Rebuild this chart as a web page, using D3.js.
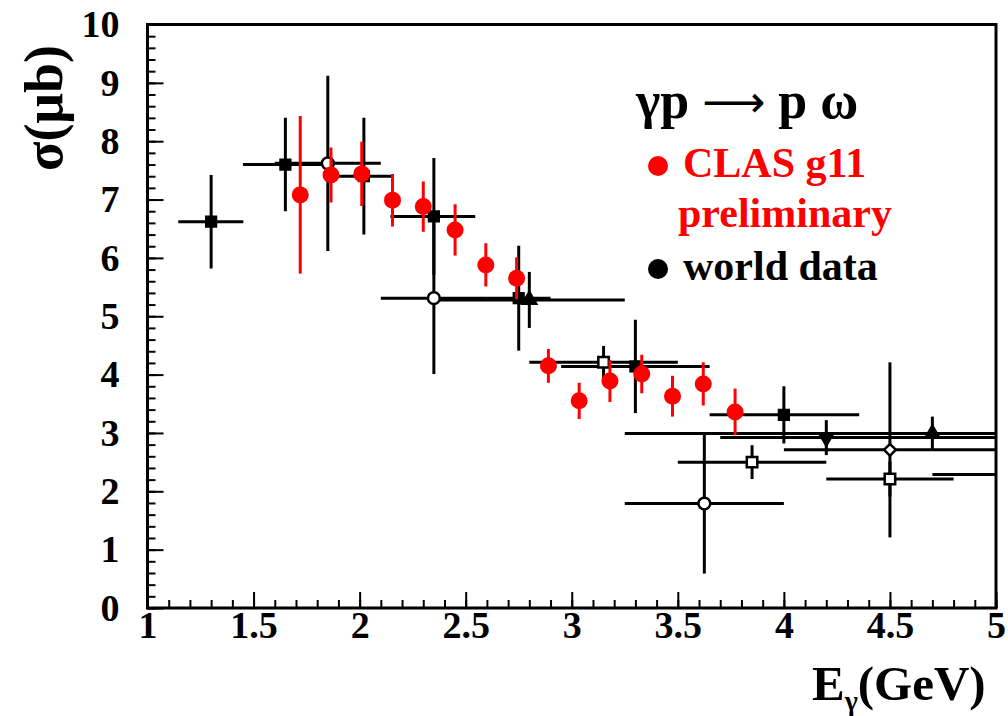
<!DOCTYPE html>
<html><head><meta charset="utf-8">
<script src="https://cdn.jsdelivr.net/npm/d3@7"></script>
<style>
html,body{margin:0;padding:0;background:#fff;}
svg{display:block;font-family:"Liberation Serif","Times New Roman",serif;font-weight:bold;}
</style></head>
<body><svg id="c" width="1008" height="716"></svg>
<script>
// ---- data ----
const xTickValues = [1, 1.5, 2, 2.5, 3, 3.5, 4, 4.5, 5];
const yTickValues = [0, 1, 2, 3, 4, 5, 6, 7, 8, 9, 10];

// CLAS g11 preliminary (red)
const clasE     = [1.72, 1.865, 2.01, 2.155, 2.30, 2.45, 2.595, 2.74, 2.89, 3.035, 3.18, 3.33, 3.475, 3.62, 3.77];
const clasSigma = [7.08, 7.42, 7.44, 6.99, 6.88, 6.48, 5.88, 5.65, 4.15, 3.55, 3.89, 4.01, 3.63, 3.84, 3.36];
const clasErr   = [1.35, 0.47, 0.55, 0.45, 0.43, 0.44, 0.37, 0.36, 0.29, 0.31, 0.36, 0.33, 0.35, 0.37, 0.40];

// world data (black)
const worldE      = [1.30, 1.65, 1.85, 2.02, 2.35, 2.35, 2.75, 2.80, 3.15, 3.30, 3.625, 4.00, 3.85, 4.20, 4.50, 4.50, 4.70, 5.20];
const worldSigma  = [6.62, 7.60, 7.62, 7.40, 6.71, 5.31, 5.31, 5.28, 4.21, 4.14, 1.79, 3.31, 2.50, 2.92, 2.71, 2.21, 2.99, 2.29];
const worldElo    = [1.145, 1.45, 1.60, 1.90, 2.145, 2.10, 2.60, 2.35, 2.80, 2.95, 3.25, 3.65, 3.50, 3.70, 4.00, 4.20, 3.25, 4.70];
const worldEhi    = [1.452, 1.85, 2.10, 2.15, 2.545, 2.60, 2.90, 3.25, 3.50, 3.65, 4.00, 4.355, 4.20, 5.30, 5.30, 4.80, 5.30, 5.70];
const worldErr    = [0.80, 0.80, 1.50, 1.00, 1.00, 1.30, 0.90, 0.48, 0.28, 0.80, 1.20, 0.49, 0.29, 0.30, 1.50, 0.30, 0.29, 0.30];
const worldMarker = ["sq", "sq", "oc", "sq", "sq", "oc", "sq", "tu", "os", "sq", "oc", "sq", "os", "td", "od", "os", "tu", "sq"];

// ---- layout ----
const svg = d3.select("#c");
const X0 = 147.5, X1 = 996, Y0 = 608, Y1 = 24.5;
const x = d3.scaleLinear().domain([1, 5]).range([X0, X1]);
const y = d3.scaleLinear().domain([0, 10]).range([Y0, Y1]);
const serif = "Liberation Serif, Times New Roman, serif";

svg.append("defs").append("clipPath").attr("id", "clip")
  .append("rect").attr("x", X0).attr("y", Y1).attr("width", X1 - X0).attr("height", Y0 - Y1);

// minor ticks
const xMinor = d3.range(1, 5.0001, 0.1).map(v => +v.toFixed(2));
const yMinor = d3.range(0, 10.0001, 0.2).map(v => +v.toFixed(2));
svg.append("g").attr("transform", `translate(0,${Y0})`)
  .call(d3.axisBottom(x).tickValues(xMinor).tickSize(-8).tickFormat(""))
  .call(g => g.select(".domain").remove())
  .call(g => g.selectAll("line").attr("stroke", "#000").attr("stroke-width", 2));
svg.append("g").attr("transform", `translate(${X0},0)`)
  .call(d3.axisLeft(y).tickValues(yMinor).tickSize(-8).tickFormat(""))
  .call(g => g.select(".domain").remove())
  .call(g => g.selectAll("line").attr("stroke", "#000").attr("stroke-width", 2));

// major ticks + labels
svg.append("g").attr("transform", `translate(0,${Y0})`)
  .call(d3.axisBottom(x).tickValues(xTickValues).tickSize(-16).tickPadding(3).tickFormat(d3.format("")))
  .call(g => g.select(".domain").remove())
  .call(g => g.selectAll("line").attr("stroke", "#000").attr("stroke-width", 2))
  .call(g => g.selectAll("text").attr("fill", "#000").attr("font-size", 38)
      .attr("font-family", serif).attr("font-weight", "bold"));
svg.append("g").attr("transform", `translate(${X0},0)`)
  .call(d3.axisLeft(y).tickValues(yTickValues).tickSize(-16).tickPadding(28).tickFormat(d3.format("d")))
  .call(g => g.select(".domain").remove())
  .call(g => g.selectAll("line").attr("stroke", "#000").attr("stroke-width", 2))
  .call(g => g.selectAll("text").attr("fill", "#000").attr("font-size", 38)
      .attr("font-family", serif).attr("font-weight", "bold"));

// frame
svg.append("rect").attr("x", X0).attr("y", Y1).attr("width", X1 - X0).attr("height", Y0 - Y1)
  .attr("fill", "none").attr("stroke", "#000").attr("stroke-width", 3);

// ---- world data ----
const world = worldE.map((e, i) => ({e, s: worldSigma[i], lo: worldElo[i], hi: worldEhi[i], err: worldErr[i], m: worldMarker[i]}));
const gw = svg.append("g").attr("clip-path", "url(#clip)");
gw.selectAll("line.h").data(world).join("line")
  .attr("x1", d => x(d.lo)).attr("x2", d => x(d.hi))
  .attr("y1", d => y(d.s)).attr("y2", d => y(d.s))
  .attr("stroke", "#000").attr("stroke-width", 3);
gw.selectAll("line.v").data(world).join("line")
  .attr("x1", d => x(d.e)).attr("x2", d => x(d.e))
  .attr("y1", d => y(d.s + d.err)).attr("y2", d => y(d.s - d.err))
  .attr("stroke", "#000").attr("stroke-width", 3);
const sym = {
  sq: d3.symbol(d3.symbolSquare, 150),
  os: d3.symbol(d3.symbolSquare, 110),
  oc: d3.symbol(d3.symbolCircle, 110),
  od: d3.symbol(d3.symbolSquare, 70),
  tu: d3.symbol(d3.symbolTriangle, 140),
  td: d3.symbol(d3.symbolTriangle, 140)
};
const rot = {td: " rotate(180)", od: " rotate(45)"};
gw.selectAll("path.m").data(world).join("path")
  .attr("d", d => sym[d.m]())
  .attr("transform", d => `translate(${x(d.e)},${y(d.s)})` + (rot[d.m] || ""))
  .attr("fill", d => (d.m === "oc" || d.m === "os" || d.m === "od") ? "#fff" : "#000")
  .attr("stroke", "#000")
  .attr("stroke-width", d => (d.m === "oc" || d.m === "os" || d.m === "od") ? 2.5 : 0);

// ---- CLAS data ----
const clas = clasE.map((e, i) => ({e, s: clasSigma[i], err: clasErr[i]}));
const gc = svg.append("g").attr("clip-path", "url(#clip)");
gc.selectAll("line").data(clas).join("line")
  .attr("x1", d => x(d.e)).attr("x2", d => x(d.e))
  .attr("y1", d => y(d.s + d.err)).attr("y2", d => y(d.s - d.err))
  .attr("stroke", "#ff0000").attr("stroke-width", 3);
gc.selectAll("circle").data(clas).join("circle")
  .attr("cx", d => x(d.e)).attr("cy", d => y(d.s)).attr("r", 8.5)
  .attr("fill", "#ff0000");

// ---- axis titles ----
svg.append("text").attr("transform", "translate(62,108) rotate(-90)")
  .attr("text-anchor", "middle").attr("font-size", 54).attr("fill", "#000").text("σ(μb)");
const xt = svg.append("text").attr("x", 812).attr("y", 700).attr("font-size", 49).attr("fill", "#000");
xt.append("tspan").text("E");
xt.append("tspan").attr("font-size", 28).attr("dy", 10).text("γ");
xt.append("tspan").attr("dy", -10).text("(GeV)");

// ---- legend ----
const tt = svg.append("text").attr("x", 636).attr("y", 118).attr("font-size", 52).attr("fill", "#000");
tt.append("tspan").text("γp ");
tt.append("tspan").attr("font-family", "DejaVu Sans, sans-serif").attr("font-weight", "normal")
  .attr("font-size", 44).attr("dy", -1).text("⟶");
tt.append("tspan").attr("dy", 1).text(" p ω");
svg.append("circle").attr("cx", 658).attr("cy", 166).attr("r", 10).attr("fill", "#ff0000");
svg.append("text").attr("x", 683).attr("y", 177).attr("font-size", 42).attr("fill", "#ff0000").text("CLAS g11");
svg.append("text").attr("x", 678).attr("y", 227).attr("font-size", 42).attr("fill", "#ff0000").text("preliminary");
svg.append("circle").attr("cx", 658).attr("cy", 269).attr("r", 10).attr("fill", "#000");
svg.append("text").attr("x", 683).attr("y", 280).attr("font-size", 42).attr("fill", "#000").text("world data");
</script></body></html>
